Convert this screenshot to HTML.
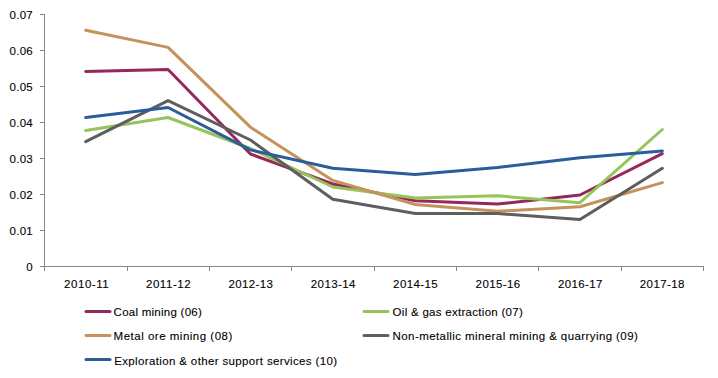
<!DOCTYPE html>
<html><head><meta charset="utf-8"><style>
html,body{margin:0;padding:0;background:#fff;}
body{width:718px;height:378px;position:relative;overflow:hidden;}
svg{position:absolute;left:0;top:0;}
text{font-family:"Liberation Sans",sans-serif;font-size:11.5px;fill:#000;stroke:#000;stroke-width:0.1px;white-space:pre;}
</style></head><body>
<svg width="718" height="378" viewBox="0 0 718 378">
<path d="M44.5,14 V266.5 H703.5" fill="none" stroke="#868686" stroke-width="1"/>
<path d="M40,14.5 H44 M40,50.5 H44 M40,86.5 H44 M40,122.5 H44 M40,158.5 H44 M40,194.5 H44 M40,230.5 H44 M40,266.5 H44 M44.5,266 V271 M127.5,266 V271 M209.5,266 V271 M291.5,266 V271 M374.5,266 V271 M456.5,266 V271 M538.5,266 V271 M621.5,266 V271 M703.5,266 V271" fill="none" stroke="#868686" stroke-width="1"/>
<polyline points="85.69,71.40 168.06,69.50 250.44,154.00 332.81,184.00 415.19,200.70 497.56,204.10 579.94,195.00 662.31,153.60" fill="none" stroke="#95285A" stroke-width="3" stroke-linejoin="round" stroke-linecap="round"/>
<polyline points="85.69,130.40 168.06,117.50 250.44,148.50 332.81,187.00 415.19,197.90 497.56,195.80 579.94,202.70 662.31,129.50" fill="none" stroke="#95C45A" stroke-width="3" stroke-linejoin="round" stroke-linecap="round"/>
<polyline points="85.69,30.30 168.06,47.40 250.44,127.20 332.81,180.40 415.19,204.50 497.56,211.20 579.94,206.70 662.31,182.60" fill="none" stroke="#C4925A" stroke-width="3" stroke-linejoin="round" stroke-linecap="round"/>
<polyline points="85.69,141.60 168.06,100.60 250.44,140.00 332.81,199.30 415.19,213.40 497.56,213.60 579.94,219.40 662.31,168.30" fill="none" stroke="#5E5E5E" stroke-width="3" stroke-linejoin="round" stroke-linecap="round"/>
<polyline points="85.69,117.50 168.06,107.50 250.44,149.90 332.81,168.20 415.19,174.50 497.56,167.40 579.94,157.70 662.31,150.90" fill="none" stroke="#2B5D9A" stroke-width="3" stroke-linejoin="round" stroke-linecap="round"/>
<path d="M86,311.5 H110" stroke="#95285A" stroke-width="3" stroke-linecap="round"/>
<path d="M364,311.5 H388" stroke="#95C45A" stroke-width="3" stroke-linecap="round"/>
<path d="M86,335.5 H110" stroke="#C4925A" stroke-width="3" stroke-linecap="round"/>
<path d="M364,335.5 H388" stroke="#5E5E5E" stroke-width="3" stroke-linecap="round"/>
<path d="M86,359.5 H110" stroke="#2B5D9A" stroke-width="3" stroke-linecap="round"/>
<text x="32.7" y="19" text-anchor="end" textLength="23.2" lengthAdjust="spacing">0.07</text>
<text x="32.7" y="55" text-anchor="end" textLength="23.2" lengthAdjust="spacing">0.06</text>
<text x="32.7" y="91" text-anchor="end" textLength="23.2" lengthAdjust="spacing">0.05</text>
<text x="32.7" y="127" text-anchor="end" textLength="23.2" lengthAdjust="spacing">0.04</text>
<text x="32.7" y="163" text-anchor="end" textLength="23.2" lengthAdjust="spacing">0.03</text>
<text x="32.7" y="199" text-anchor="end" textLength="23.2" lengthAdjust="spacing">0.02</text>
<text x="32.7" y="235" text-anchor="end" textLength="23.2" lengthAdjust="spacing">0.01</text>
<text x="32.7" y="271" text-anchor="end" textLength="6.4" lengthAdjust="spacing">0</text>
<text x="86.4" y="288" text-anchor="middle" textLength="44.6" lengthAdjust="spacing">2010-11</text>
<text x="168.3" y="288" text-anchor="middle" textLength="44.6" lengthAdjust="spacing">2011-12</text>
<text x="250.7" y="288" text-anchor="middle" textLength="44.6" lengthAdjust="spacing">2012-13</text>
<text x="333.1" y="288" text-anchor="middle" textLength="44.6" lengthAdjust="spacing">2013-14</text>
<text x="415.4" y="288" text-anchor="middle" textLength="44.6" lengthAdjust="spacing">2014-15</text>
<text x="497.9" y="288" text-anchor="middle" textLength="44.6" lengthAdjust="spacing">2015-16</text>
<text x="580.2" y="288" text-anchor="middle" textLength="44.6" lengthAdjust="spacing">2016-17</text>
<text x="662.1" y="288" text-anchor="middle" textLength="44.6" lengthAdjust="spacing">2017-18</text>
<text x="113.6" y="316" textLength="88.2" lengthAdjust="spacing">Coal mining (06)</text>
<text x="392.6" y="316" textLength="130.2" lengthAdjust="spacing">Oil &amp; gas extraction (07)</text>
<text x="113.6" y="340" textLength="118.7" lengthAdjust="spacing">Metal ore mining (08)</text>
<text x="392.6" y="340" textLength="245.2" lengthAdjust="spacing">Non-metallic mineral mining &amp; quarrying (09)</text>
<text x="114.2" y="365" textLength="222.9" lengthAdjust="spacing">Exploration &amp; other support services (10)</text>
</svg>
</body></html>
